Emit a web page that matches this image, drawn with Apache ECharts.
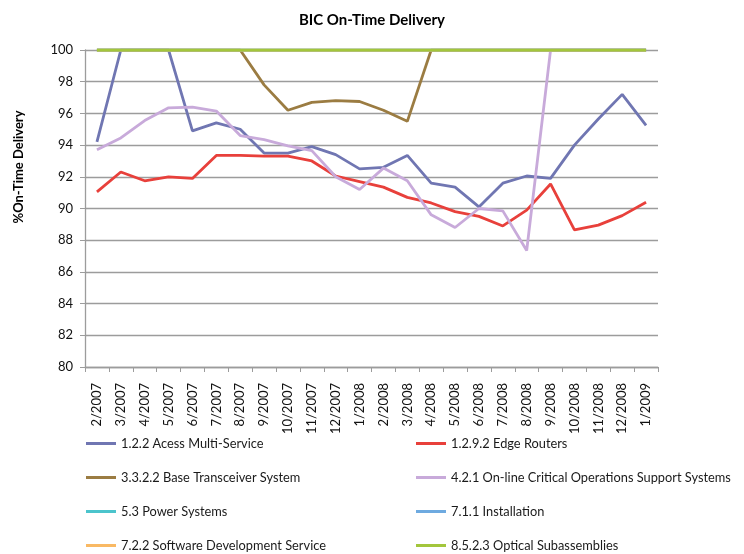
<!DOCTYPE html>
<html>
<head>
<meta charset="utf-8">
<title>BIC On-Time Delivery</title>
<script src="https://cdn.jsdelivr.net/npm/echarts@6/dist/echarts.min.js"></script>
<style>
  html, body { margin: 0; padding: 0; background: #fff; }
  #chart { width: 744px; height: 554px; }
</style>
</head>
<body>
<div id="chart"></div>
<script>
// months on the x axis
var months = ["2/2007", "3/2007", "4/2007", "5/2007", "6/2007", "7/2007", "8/2007", "9/2007",
  "10/2007", "11/2007", "12/2007", "1/2008", "2/2008", "3/2008", "4/2008", "5/2008",
  "6/2008", "7/2008", "8/2008", "9/2008", "10/2008", "11/2008", "12/2008", "1/2009"];

// % on-time delivery per supplier group
var accessMulti = [94.2, 100, 100, 100, 94.9, 95.4, 95.0, 93.5, 93.5, 93.9, 93.4, 92.5,
  92.6, 93.35, 91.6, 91.35, 90.1, 91.6, 92.05, 91.9, 94.0, 95.65, 97.2, 95.25];
var edgeRouters = [91.05, 92.3, 91.75, 92.0, 91.9, 93.35, 93.35, 93.3, 93.3, 93.0, 92.05, 91.7,
  91.35, 90.7, 90.35, 89.8, 89.5, 88.9, 89.9, 91.55, 88.65, 88.95, 89.55, 90.4];
var baseTransceiver = [100, 100, 100, 100, 100, 100, 100, 97.8, 96.2, 96.7, 96.8, 96.75,
  96.2, 95.5, 100, 100, 100, 100, 100, 100, 100, 100, 100, 100];
var onlineCritical = [93.7, 94.45, 95.55, 96.35, 96.4, 96.15, 94.6, 94.35, 93.95, 93.65, 92.0, 91.2,
  92.55, 91.75, 89.6, 88.8, 90.0, 89.85, 87.35, 100, 100, 100, 100, 100];
var powerSystems = [100, 100, 100, 100, 100, 100, 100, 100, 100, 100, 100, 100,
  100, 100, 100, 100, 100, 100, 100, 100, 100, 100, 100, 100];
var installation = [100, 100, 100, 100, 100, 100, 100, 100, 100, 100, 100, 100,
  100, 100, 100, 100, 100, 100, 100, 100, 100, 100, 100, 100];
var softwareDev = [100, 100, 100, 100, 100, 100, 100, 100, 100, 100, 100, 100,
  100, 100, 100, 100, 100, 100, 100, 100, 100, 100, 100, 100];
var opticalSub = [100, 100, 100, 100, 100, 100, 100, 100, 100, 100, 100, 100,
  100, 100, 100, 100, 100, 100, 100, 100, 100, 100, 100, 100];

var seriesNames = ["1.2.2 Acess Multi-Service", "1.2.9.2 Edge Routers",
  "3.3.2.2 Base Transceiver System", "4.2.1 On-line Critical Operations Support Systems",
  "5.3 Power Systems", "7.1.1 Installation",
  "7.2.2 Software Development Service", "8.5.2.3 Optical Subassemblies"];
var seriesData = [accessMulti, edgeRouters, baseTransceiver, onlineCritical,
  powerSystems, installation, softwareDev, opticalSub];
var seriesColors = ["#7076b2", "#e8403b", "#9b7c42", "#c8aada",
  "#4bc4cc", "#6eaae0", "#f9b964", "#a3c63c"];

var yTicks = { min: 80, max: 100, step: 2 };

var font = "Lato, 'Open Sans', sans-serif";
var gridGray = "#9c9c9c";

var series = [];
for (var i = 0; i < seriesNames.length; i++) {
  series.push({
    name: seriesNames[i],
    type: "line",
    data: seriesData[i],
    symbol: "none",
    color: seriesColors[i],
    lineStyle: { width: 2.8, color: seriesColors[i] }
  });
}

// one legend entry per box: two columns, four rows
var legends = [];
for (var k = 0; k < seriesNames.length; k++) {
  legends.push({
    left: k % 2 == 0 ? 81 : 411,
    top: 432 + Math.floor(k / 2) * 34,
    itemWidth: 30,
    itemHeight: 3,
    icon: "rect",
    selectedMode: false,
    data: [seriesNames[k]],
    textStyle: { fontFamily: font, fontSize: 12.8, color: "#1a1a1a" }
  });
}

var chart = echarts.init(document.getElementById("chart"), null, { renderer: "canvas" });
chart.setOption({
  animation: false,
  backgroundColor: "#fff",
  title: {
    text: "BIC On-Time Delivery",
    left: "center",
    top: 8,
    textStyle: { fontFamily: font, fontSize: 15, fontWeight: "bold", color: "#000" }
  },
  graphic: [{
    type: "text",
    x: 19,
    y: 167,
    rotation: Math.PI / 2,
    style: {
      text: "%On-Time Delivery",
      font: "bold 13px " + font,
      fill: "#000",
      align: "center",
      verticalAlign: "middle"
    }
  }],
  legend: legends,
  grid: { left: 85, right: 86, top: 50, bottom: 187 },
  xAxis: {
    type: "category",
    data: months,
    boundaryGap: true,
    axisLine: { lineStyle: { color: gridGray, width: 1.3 } },
    axisTick: { show: true, length: 5, lineStyle: { color: gridGray } },
    axisLabel: { rotate: 90, margin: 16, interval: 0, fontFamily: font, fontSize: 13, color: "#111" }
  },
  yAxis: {
    type: "value",
    min: yTicks.min,
    max: yTicks.max,
    interval: yTicks.step,
    axisLine: { show: true, lineStyle: { color: gridGray, width: 1.3 } },
    axisTick: { show: true, length: 5, lineStyle: { color: gridGray } },
    axisLabel: { margin: 12, fontFamily: font, fontSize: 13, color: "#111" },
    splitLine: { lineStyle: { color: gridGray, width: 1.3 } }
  },
  series: series
});
</script>
</body>
</html>
